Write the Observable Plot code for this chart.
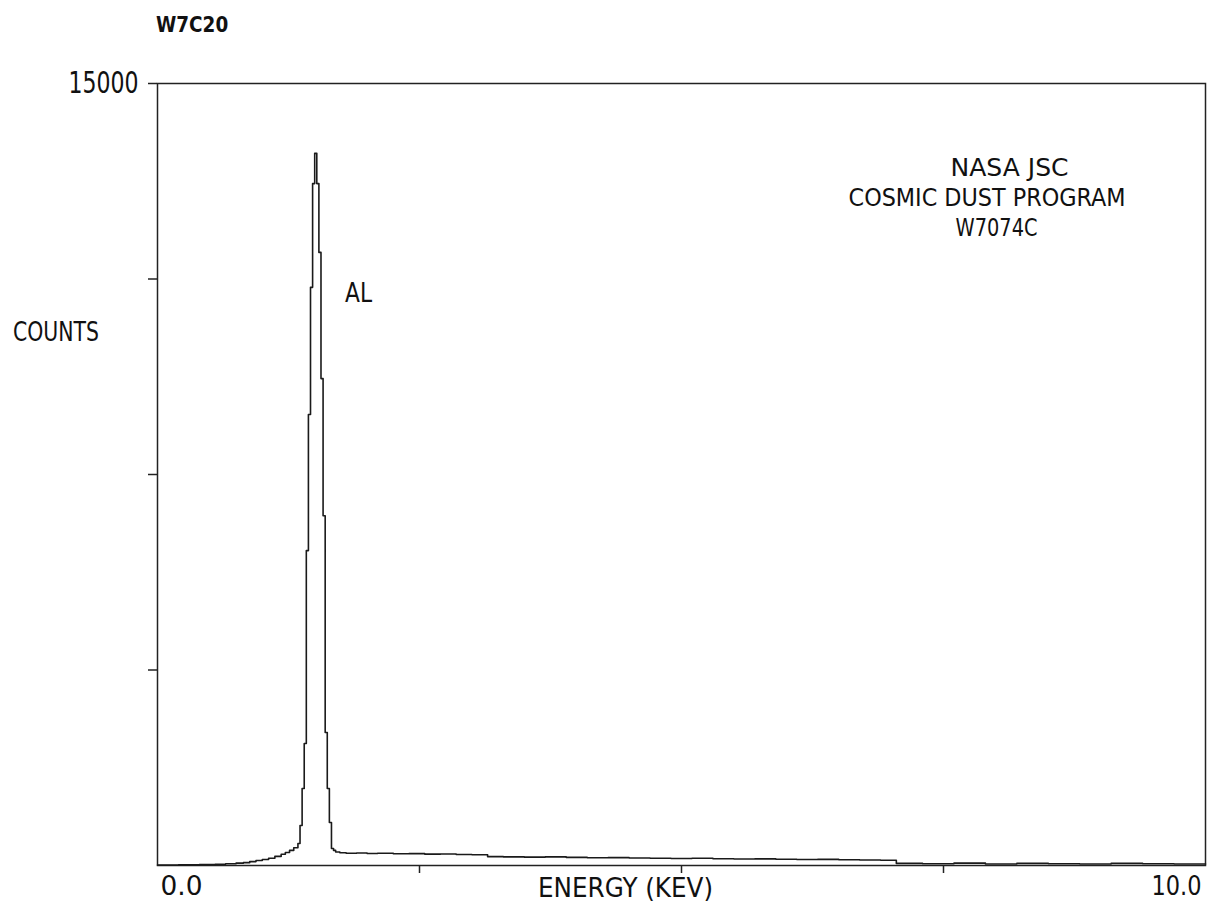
<!DOCTYPE html>
<html>
<head>
<meta charset="utf-8">
<script src="https://cdn.jsdelivr.net/npm/d3@7"></script>
<script src="https://cdn.jsdelivr.net/npm/@observablehq/plot@0.6"></script>
<style>
  body { margin: 0; background: #fff; }
  #title {
    height: 40px; box-sizing: border-box; padding: 14px 0 0 156px;
    font-family: 'DejaVu Sans Condensed', 'DejaVu Sans', sans-serif;
    font-size: 22px; font-weight: bold; line-height: 22px; color: #111;
  }
  #title span { display: inline-block; transform: scaleX(0.93); transform-origin: left center; }
  svg text { fill: #111; }
</style>
</head>
<body>
<div id="title"><span>W7C20</span></div>
<div id="chart"></div>
<script>
// Channel start energies (keV) and counts (step spectrum)
const energy = [
  0.00, 0.20, 0.40, 0.55, 0.65, 0.75, 0.82, 0.88, 0.94, 1.00,
  1.06, 1.12, 1.18, 1.22, 1.26, 1.30, 1.34, 1.36, 1.38, 1.40,
  1.42, 1.44, 1.46, 1.48, 1.50, 1.52, 1.54, 1.56, 1.58, 1.60,
  1.62, 1.64, 1.66, 1.68, 1.70, 1.74, 1.80, 1.90, 2.00, 2.10,
  2.25, 2.40, 2.55, 2.70, 2.85, 3.00, 3.15, 3.30, 3.50, 3.70,
  3.90, 4.10, 4.30, 4.50, 4.70, 4.90, 5.10, 5.30, 5.50, 5.70,
  5.90, 6.10, 6.30, 6.50, 6.70, 6.90, 7.05, 7.30, 7.60, 7.90,
  8.20, 8.50, 8.80, 9.10, 9.40, 9.70, 10.00
];
const counts = [
  10, 12, 18, 25, 35, 45, 55, 75, 95, 115,
  140, 175, 215, 250, 290, 340, 422, 767, 1477, 2340,
  6040, 8650, 11090, 13080, 13660, 13080, 11760, 9340, 6710, 2550,
  1477, 825, 326, 290, 260, 245, 235, 240, 230, 235,
  225, 228, 218, 222, 210, 205, 170, 165, 160, 165,
  155, 150, 152, 145, 140, 135, 138, 130, 125, 128,
  120, 115, 118, 110, 105, 100, 40, 35, 45, 30,
  40, 35, 30, 40, 35, 30, 30
];
const yTicks = [3750, 7500, 11250, 15000];
const yTickLabels = ["", "", "", "15000"];
const xTicks = [2.5, 5, 7.5];
const xEndValues = [0, 10];
const xEndLabels = ["0.0", "10.0"];
const xLabel = "ENERGY (KEV)";
const yLabel = "COUNTS";
const peakLabel = "AL";
const infoLines = ["NASA JSC", "COSMIC DUST PROGRAM", "W7074C"];

const spectrum = energy.map((e, i) => ({energy: e, counts: counts[i]}));
const FONT = "'DejaVu Sans Condensed','DejaVu Sans',sans-serif";

const chart = Plot.plot({
  width: 1207,
  height: 876,
  marginLeft: 157,
  marginRight: 2,
  marginTop: 43,
  marginBottom: 51,
  style: {fontFamily: FONT, background: "#fff", color: "#111", overflow: "visible"},
  x: {domain: [0, 10]},
  y: {domain: [0, 15000]},
  marks: [
    Plot.frame({stroke: "#222", strokeWidth: 1.5}),
    Plot.axisY({
      ticks: yTicks,
      tickFormat: d => yTickLabels[yTicks.indexOf(d)],
      tickSize: 9, tickPadding: 10, fontSize: 30, stroke: "#222", strokeWidth: 1.5,
      label: null
    }),
    Plot.axisX({
      ticks: xTicks, tickFormat: () => "", tickSize: 8,
      stroke: "#222", strokeWidth: 1.5, label: null
    }),
    Plot.text(xEndLabels, {
      x: (d, i) => xEndValues[i], text: d => d, frameAnchor: "bottom",
      textAnchor: "start", dy: 29, dx: 3, fontSize: 27,
      filter: (d, i) => i === 0
    }),
    Plot.text(xEndLabels, {
      x: (d, i) => xEndValues[i], text: d => d, frameAnchor: "bottom",
      textAnchor: "end", dy: 29, dx: -4, fontSize: 27,
      filter: (d, i) => i === 1
    }),
    Plot.text([xLabel], {frameAnchor: "bottom", dx: -56, dy: 31, fontSize: 27}),
    Plot.text([yLabel], {x: -1.38, y: 10230, textAnchor: "start", fontSize: 27}),
    Plot.line(spectrum, {
      x: "energy", y: "counts", curve: "step-after",
      stroke: "#1a1a1a", strokeWidth: 1.6
    }),
    Plot.text([peakLabel], {x: 1.79, y: 10980, textAnchor: "start", fontSize: 27}),
    Plot.text([infoLines[0]], {x: 7.567, y: 13387, textAnchor: "start", fontSize: 25}),
    Plot.text([infoLines[1]], {x: 6.594, y: 12812, textAnchor: "start", fontSize: 25}),
    Plot.text([infoLines[2]], {x: 7.615, y: 12237, textAnchor: "start", fontSize: 25})
  ]
});

// Narrow the glyphs to the plotter font's widths seen in the reference
const textWidths = new Map([
  ["15000", 70], ["COUNTS", 86], ["AL", 27], ["NASA JSC", 118],
  ["COSMIC DUST PROGRAM", 277], ["W7074C", 82], ["0.0", 42],
  ["10.0", 50], ["ENERGY (KEV)", 175]
]);
chart.querySelectorAll("text").forEach(t => {
  const w = textWidths.get(t.textContent.trim());
  if (w) {
    t.setAttribute("textLength", w);
    t.setAttribute("lengthAdjust", "spacingAndGlyphs");
  }
});
document.getElementById("chart").appendChild(chart);
</script>
</body>
</html>
